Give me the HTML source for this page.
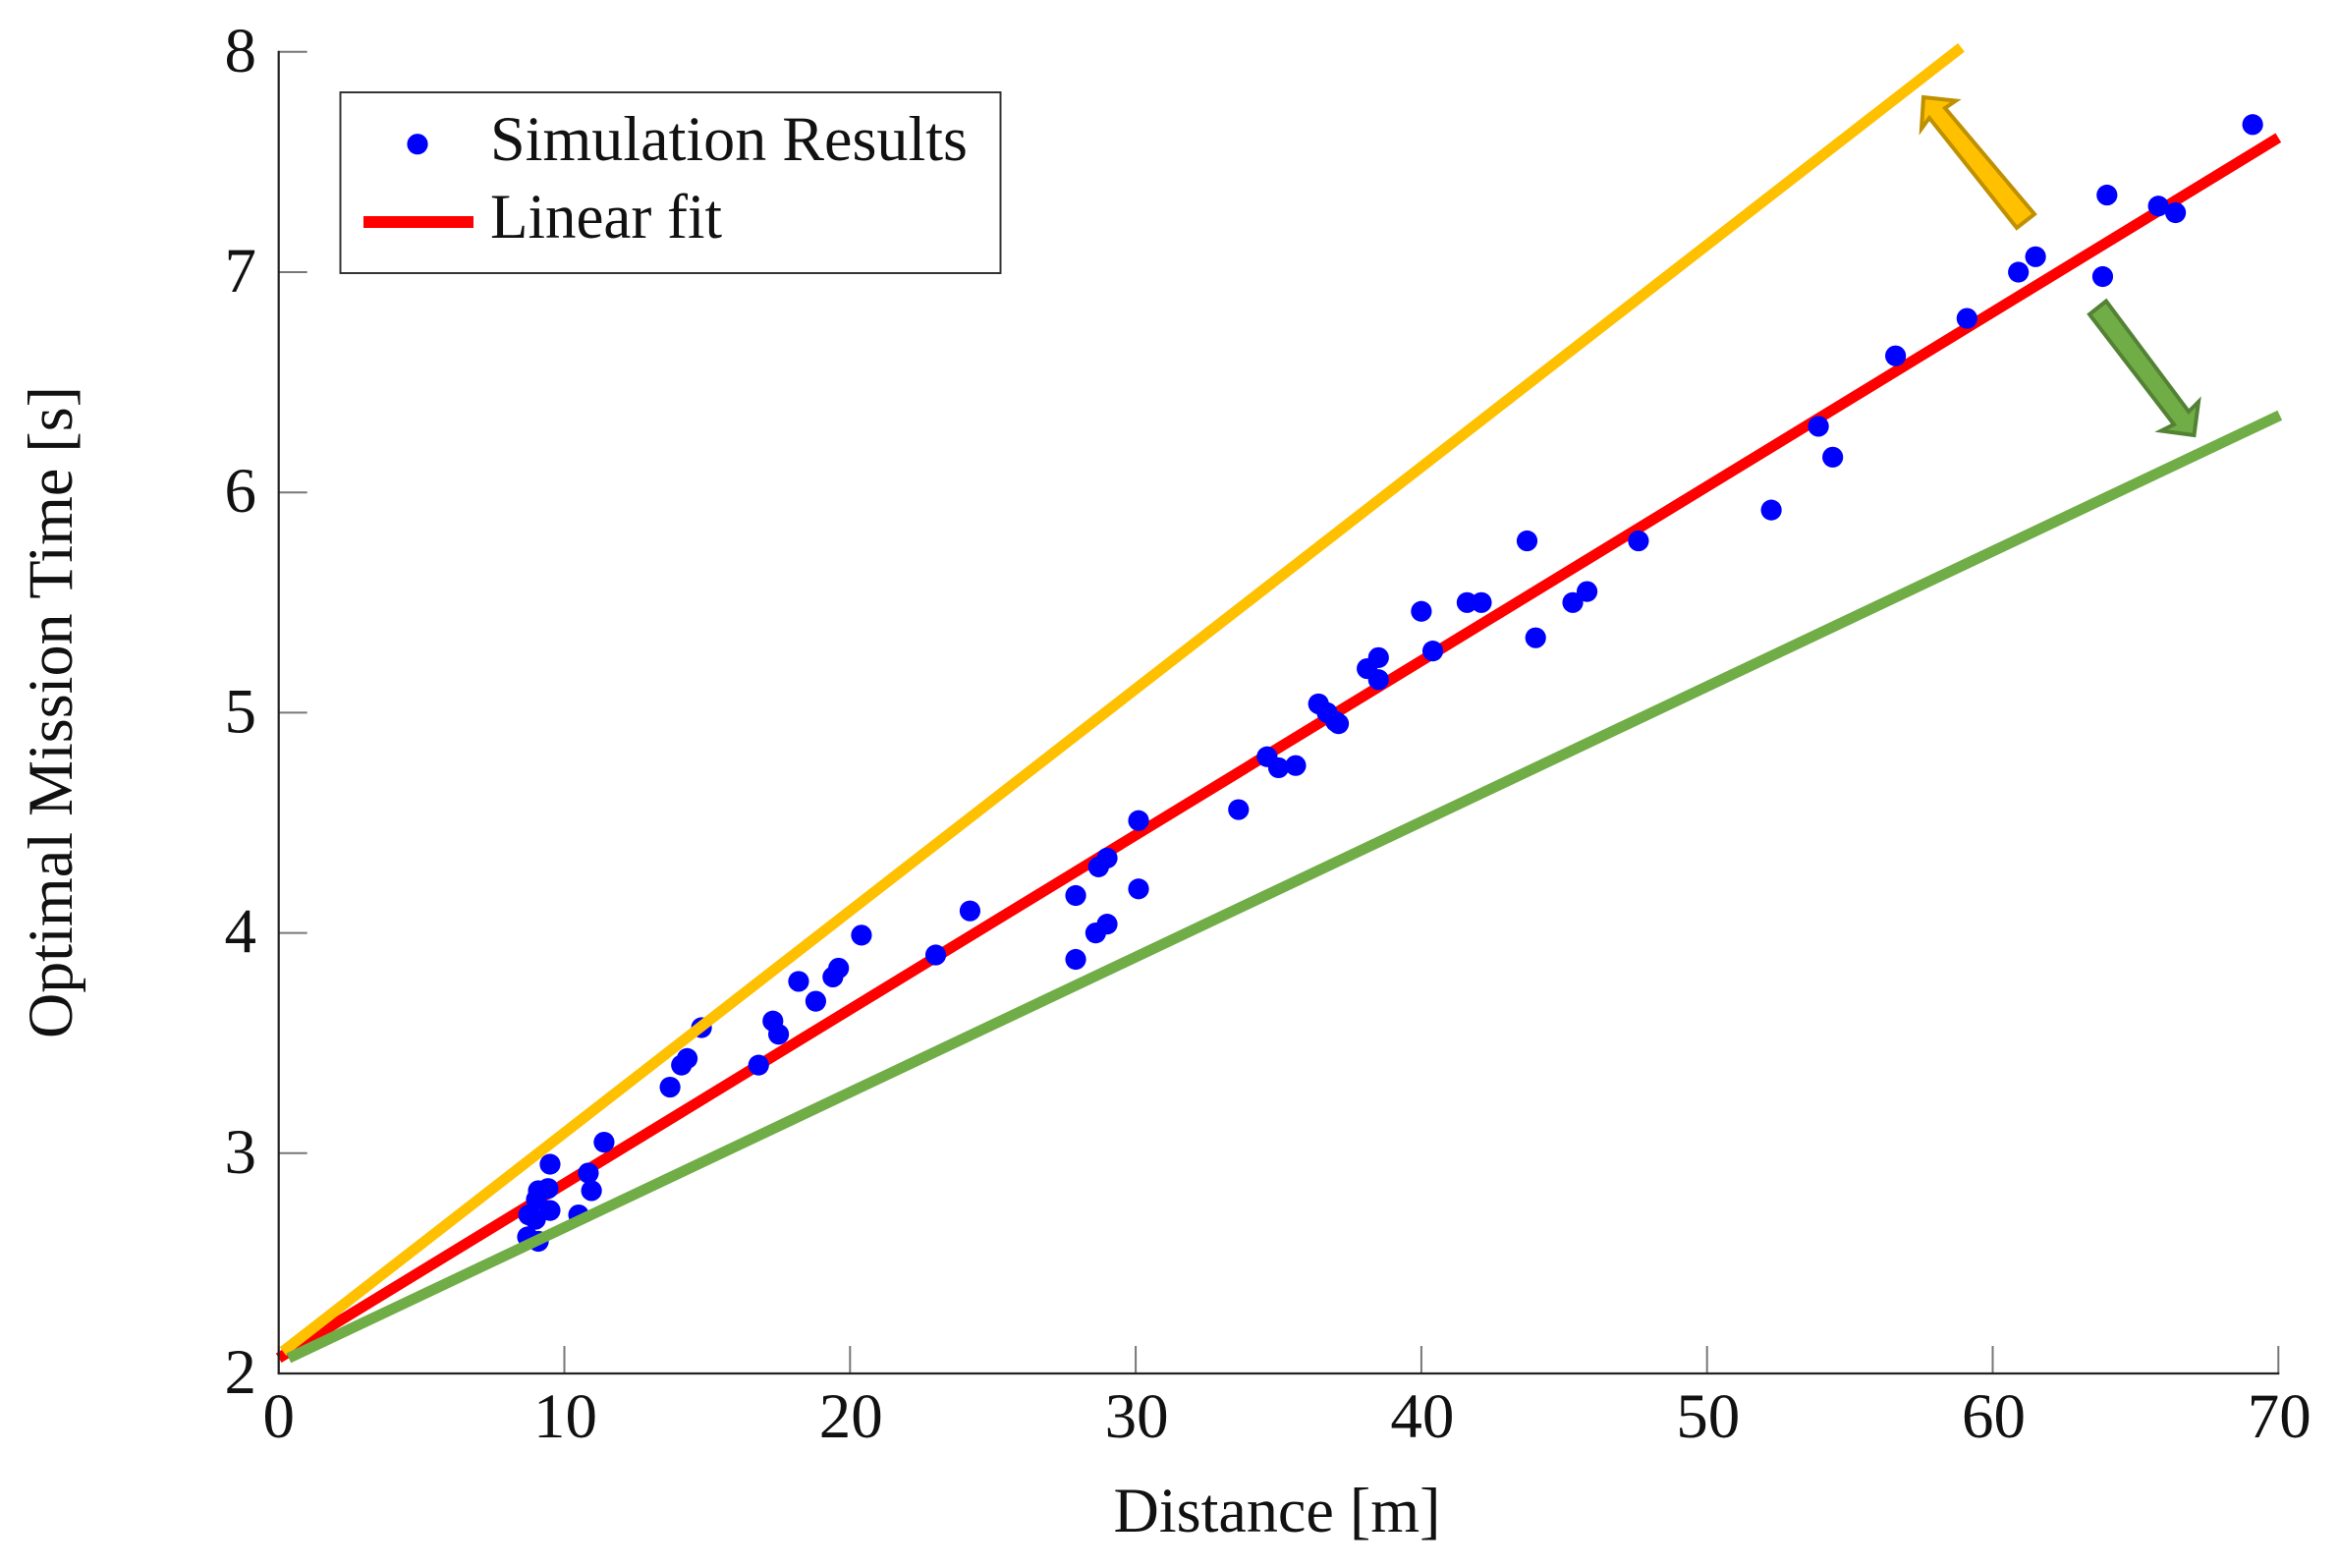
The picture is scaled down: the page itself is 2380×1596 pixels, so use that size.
<!DOCTYPE html>
<html lang="en">
<head>
<meta charset="utf-8">
<title>Optimal Mission Time vs Distance</title>
<style>
  html, body { margin: 0; padding: 0; background: #fff; }
  svg { display: block; }
  text { font-family: "Liberation Serif", "Times New Roman", serif; fill: #111; }
</style>
</head>
<body>
<svg id="chart" xmlns="http://www.w3.org/2000/svg" width="2380" height="1596" viewBox="0 0 2380 1596">
  <rect x="0" y="0" width="2380" height="1596" fill="#ffffff"/>
</svg>
<script>
// Chart data
const xTicks = [0, 10, 20, 30, 40, 50, 60, 70];
const yTicks = [2, 3, 4, 5, 6, 7, 8];
const distances = [
  69.1, 64.0, 65.8, 66.4, 63.85, 61.5, 60.9, 59.1, 56.6, 53.9, 54.4, 52.25, 47.6, 45.8, 45.3, 43.7,
  44.0, 41.6, 42.1, 40.0, 40.4, 38.5, 38.1, 38.5, 36.4, 36.7, 37.0, 37.1, 34.6, 35.0, 35.6, 33.6,
  30.1, 30.1, 29.0, 28.7, 27.9, 29.0, 28.6, 27.9, 24.2, 23.0, 20.4, 19.6, 19.4, 18.8, 18.2, 17.3,
  17.5, 16.8, 14.8, 14.3, 14.1, 13.7, 11.39, 10.95, 10.84, 10.5, 9.5, 9.43, 9.09, 9.02, 9.5, 8.75,
  8.99, 8.71, 9.09
];
const missionTimes = [
  7.67, 7.35, 7.30, 7.27, 6.98, 7.07, 7.00, 6.79, 6.62, 6.30, 6.16, 5.92, 5.78, 5.55, 5.50, 5.78,
  5.34, 5.50, 5.50, 5.46, 5.28, 5.25, 5.20, 5.15, 5.04, 5.00, 4.96, 4.95, 4.80, 4.75, 4.76, 4.56,
  4.51, 4.20, 4.34, 4.30, 4.17, 4.04, 4.00, 3.88, 4.10, 3.90, 3.99, 3.84, 3.80, 3.69, 3.78, 3.60,
  3.54, 3.40, 3.57, 3.43, 3.40, 3.30, 3.05, 2.83, 2.91, 2.72, 2.95, 2.84, 2.83, 2.79, 2.74, 2.72,
  2.70, 2.62, 2.60
];
const fitX = [0, 70];
const fitY = [2.07, 7.61];
const upperX = [0.15, 58.9];
const upperY = [2.10, 8.02];
const lowerX = [0.35, 70.05];
const lowerY = [2.07, 6.35];
const xTitle = "Distance [m]";
const yTitle = "Optimal Mission Time [s]";
const legendLabels = ["Simulation Results", "Linear fit"];

// Axis functions
const X0 = 283.7, XSCALE = 29.08;
const Y0 = 1398, YSCALE = 224.2;
function sx(v) { return X0 + (v - 0) * XSCALE; }
function sy(v) { return Y0 - (v - 2) * YSCALE; }

const svg = document.getElementById('chart');
const NS = 'http://www.w3.org/2000/svg';
function mk(tag, attrs, parent) {
  const el = document.createElementNS(NS, tag);
  for (const k in attrs) el.setAttribute(k, attrs[k]);
  (parent || svg).appendChild(el);
  return el;
}

// Fit line (below the points)
const fitLine = mk('line', { x1: sx(fitX[0]), y1: sy(fitY[0]), x2: sx(fitX[1]), y2: sy(fitY[1]), stroke: '#ff0000', 'stroke-width': 11 });



// Scatter points
const pointsGroup = mk('g', { fill: '#0000ff' });


distances.forEach(function (d, i) {
  const dot = mk('circle', { cx: sx(d), cy: sy(missionTimes[i]), r: 10.6 }, pointsGroup);
  
  
});

// Upper and lower bound lines
const upperLine = mk('line', { x1: sx(upperX[0]), y1: sy(upperY[0]), x2: sx(upperX[1]), y2: sy(upperY[1]), stroke: '#ffc000', 'stroke-width': 11 });


const lowerLine = mk('line', { x1: sx(lowerX[0]), y1: sy(lowerY[0]), x2: sx(lowerX[1]), y2: sy(lowerY[1]), stroke: '#70ad47', 'stroke-width': 11 });



// Ticks
xTicks.forEach(function (t) {
  const tick = mk('line', { x1: sx(t), y1: Y0, x2: sx(t), y2: Y0 - 28, stroke: '#777', 'stroke-width': 2 });
  
  
  const label = mk('text', { x: sx(t) + (t === 0 ? 0 : 1), y: 1463, 'font-size': 65, 'text-anchor': 'middle' });
  label.textContent = String(t);
  
  
});
yTicks.forEach(function (t) {
  const tick = mk('line', { x1: X0, y1: sy(t), x2: X0 + 29, y2: sy(t), stroke: '#777', 'stroke-width': 2 });
  
  
  const label = mk('text', { x: 261, y: sy(t) + 20, 'font-size': 65, 'text-anchor': 'end' });
  label.textContent = String(t);
  
  
});

// Axis lines
const yAxis = mk('line', { x1: X0, y1: sy(8) - 1, x2: X0, y2: Y0 + 1, stroke: '#222', 'stroke-width': 2.2 });


const xAxis = mk('line', { x1: X0 - 1, y1: Y0, x2: sx(70) + 1, y2: Y0, stroke: '#222', 'stroke-width': 2.2 });



// Axis titles
const xTitleEl = mk('text', { x: 1300, y: 1559, 'font-size': 65, 'text-anchor': 'middle', textLength: 333, lengthAdjust: 'spacingAndGlyphs' });
xTitleEl.textContent = xTitle;


const yTitleEl = mk('text', { x: 0, y: 0, 'font-size': 65, 'text-anchor': 'middle', textLength: 664, lengthAdjust: 'spacingAndGlyphs', transform: 'translate(73 725) rotate(-90)' });
yTitleEl.textContent = yTitle;



// Legend
const legend = mk('g', {});


const legendBox = mk('rect', { x: 346.5, y: 94, width: 672, height: 184, fill: '#fff', stroke: '#333', 'stroke-width': 2 }, legend);


const legendDot = mk('circle', { cx: 425, cy: 146.7, r: 10.6, fill: '#0000ff' }, legend);


const legendLine = mk('line', { x1: 370, y1: 226, x2: 482, y2: 226, stroke: '#ff0000', 'stroke-width': 12 }, legend);


const legendText1 = mk('text', { x: 499, y: 163, 'font-size': 65, textLength: 486, lengthAdjust: 'spacingAndGlyphs' }, legend);
legendText1.textContent = legendLabels[0];


const legendText2 = mk('text', { x: 499, y: 242, 'font-size': 65, textLength: 236, lengthAdjust: 'spacingAndGlyphs' }, legend);
legendText2.textContent = legendLabels[1];



// Annotation arrows
const arrowUp = mk('polygon', { points: '1958,99 1991,102.5 1980,110 2071,218 2053,232 1964,120 1956,131', fill: '#ffc000', stroke: '#bf9000', 'stroke-width': 4 });


const arrowDown = mk('polygon', { points: '2144,306.5 2127,320 2213,432 2200,438.5 2233.5,443 2238,409 2228,419', fill: '#70ad47', stroke: '#548235', 'stroke-width': 4 });


</script>
</body>
</html>
